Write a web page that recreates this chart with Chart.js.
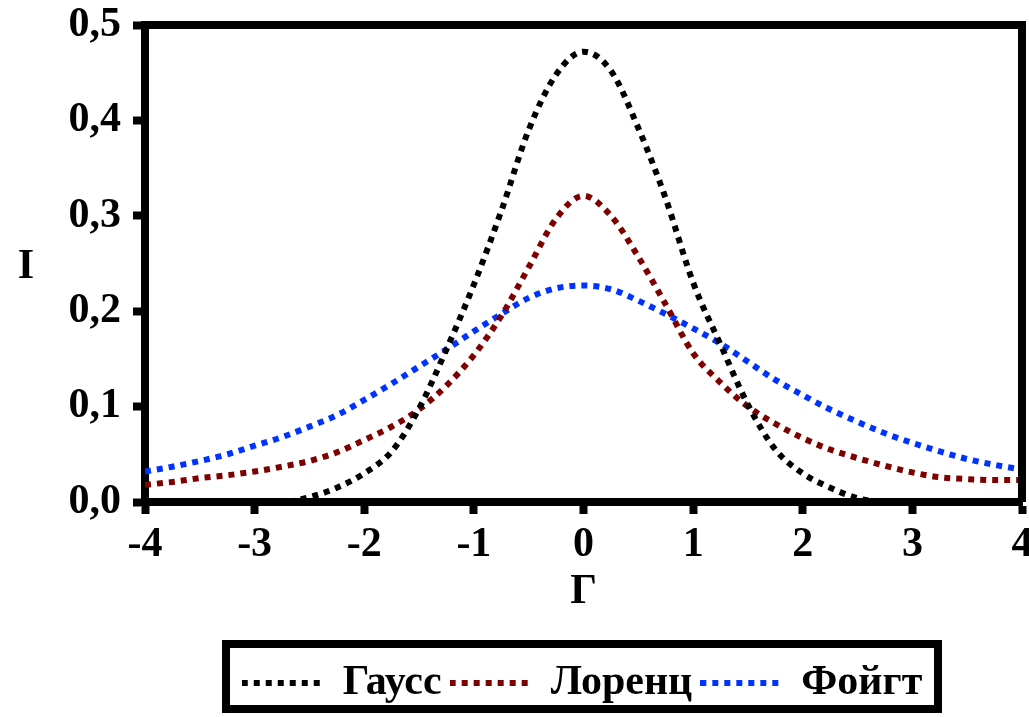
<!DOCTYPE html>
<html>
<head>
<meta charset="utf-8">
<script src="https://cdn.jsdelivr.net/npm/chart.js@4.4.1/dist/chart.umd.min.js"></script>
<style>
  html, body { margin: 0; padding: 0; background: #fff; }
  #wrap { width: 1029px; height: 717px; }
</style>
</head>
<body>
<div id="wrap"><canvas id="profileChart"></canvas></div>
<script>
// line profiles
const xValues = [-4, -3.75, -3.5, -3.25, -3, -2.75, -2.5, -2.25, -2, -1.75, -1.5, -1.25, -1, -0.75, -0.5, -0.25,
                 0, 0.25, 0.5, 0.75, 1, 1.25, 1.5, 1.75, 2, 2.25, 2.5, 2.75, 3, 3.25, 3.5, 3.75, 4];
const gaussValues = [0, 0, 0, 0, 0, 0, 0.005, 0.015, 0.03, 0.053, 0.098, 0.16, 0.228, 0.305, 0.39, 0.448,
                     0.472, 0.452, 0.392, 0.318, 0.23, 0.165, 0.102, 0.055, 0.03, 0.015, 0.004, 0, 0, 0, 0, 0, 0];
const lorentzValues = [0.018, 0.021, 0.025, 0.028, 0.032, 0.037, 0.043, 0.052, 0.065, 0.079, 0.097, 0.122, 0.154, 0.195, 0.246, 0.297,
                       0.321, 0.3, 0.257, 0.207, 0.156, 0.125, 0.1, 0.082, 0.067, 0.055, 0.046, 0.038, 0.031, 0.026, 0.024, 0.023, 0.023];
const voigtValues = [0.032, 0.037, 0.043, 0.05, 0.059, 0.068, 0.079, 0.091, 0.107, 0.124, 0.142, 0.16, 0.179, 0.197, 0.214, 0.224,
                     0.227, 0.223, 0.211, 0.197, 0.182, 0.166, 0.147, 0.128, 0.112, 0.097, 0.084, 0.072, 0.062, 0.053, 0.045, 0.039, 0.034];
const seriesNames = ['Гаусс', 'Лоренц', 'Фойгт'];
const seriesColors = ['#000000', '#7f0000', '#0033ff'];
const yTickLabels = ['0,0', '0,1', '0,2', '0,3', '0,4', '0,5'];

const serif = "'Liberation Serif', 'Times New Roman', serif";
const bigFont = { family: serif, size: 42, weight: 'bold' };
const sampleWidth = 80;

const toPoints = (vals) => xValues.map((x, i) => ({ x: x, y: vals[i] }));

const lineStyle = (color) => ({
    borderColor: color,
    backgroundColor: color,
    borderWidth: 6,
    borderDash: [6, 6],
    pointRadius: 0,
    fill: false,
    cubicInterpolationMode: 'monotone'
});

// dotted legend samples (point-style legend ignores the dash)
const makeSample = (color) => {
    const c = document.createElement('canvas');
    c.width = sampleWidth;
    c.height = 6;
    const g = c.getContext('2d');
    g.strokeStyle = color;
    g.lineWidth = 6;
    g.setLineDash([6, 6]);
    g.beginPath();
    g.moveTo(0, 3);
    g.lineTo(sampleWidth, 3);
    g.stroke();
    return c;
};
const samples = seriesColors.map(makeSample);

// unrotated "I" on the left + frame round the plot and the legend
const extras = {
    id: 'extras',
    afterLayout(chart) {
        chart.legend.left = 142;
    },
    afterDraw(chart) {
        const ctx = chart.ctx;
        const area = chart.chartArea;
        ctx.save();
        ctx.strokeStyle = '#000';
        ctx.lineWidth = 8;
        ctx.beginPath();
        ctx.moveTo(area.left - 4, area.top);
        ctx.lineTo(area.right, area.top);
        ctx.lineTo(area.right, area.bottom);
        ctx.stroke();

        ctx.strokeRect(226, 644, 712, 65);

        ctx.fillStyle = '#000';
        ctx.font = 'bold 42px ' + serif;
        ctx.textAlign = 'center';
        ctx.textBaseline = 'middle';
        ctx.fillText('I', 26, (area.top + area.bottom) / 2 + 4);
        ctx.restore();
    }
};

new Chart(document.getElementById('profileChart').getContext('2d'), {
    type: 'line',
    data: {
        datasets: [
            Object.assign({ label: seriesNames[0], data: toPoints(gaussValues) }, lineStyle(seriesColors[0])),
            Object.assign({ label: seriesNames[1], data: toPoints(lorentzValues) }, lineStyle(seriesColors[1])),
            Object.assign({ label: seriesNames[2], data: toPoints(voigtValues) }, lineStyle(seriesColors[2]))
        ]
    },
    options: {
        responsive: true,
        maintainAspectRatio: false,
        animation: false,
        layout: { padding: { top: 25, right: 7, bottom: 3, left: 0 } },
        plugins: {
            legend: {
                position: 'bottom',
                labels: {
                    usePointStyle: true,
                    pointStyleWidth: sampleWidth,
                    color: '#000',
                    font: bigFont,
                    padding: 8,
                    generateLabels(chart) {
                        const items = Chart.defaults.plugins.legend.labels.generateLabels(chart);
                        items.forEach((it, i) => { it.pointStyle = samples[i]; });
                        return items;
                    }
                }
            },
            tooltip: { enabled: false }
        },
        scales: {
            x: {
                type: 'linear',
                min: -4,
                max: 4,
                ticks: { stepSize: 1, color: '#000', font: bigFont, padding: 6, maxRotation: 0 },
                grid: { drawOnChartArea: false, tickLength: 12, tickWidth: 8, tickColor: '#000' },
                border: { width: 8, color: '#000' },
                title: { display: true, text: 'Г', color: '#000', font: bigFont, padding: { top: 0, bottom: 37 } },
                afterFit(scale) {
                    scale.height = 152;
                    scale.paddingLeft = 0;
                    scale.paddingRight = 0;
                }
            },
            y: {
                min: 0,
                max: 0.5,
                ticks: {
                    stepSize: 0.1,
                    color: '#000',
                    font: bigFont,
                    padding: 12,
                    callback: (v) => yTickLabels[Math.round(v * 10)]
                },
                grid: { drawOnChartArea: false, tickLength: 12, tickWidth: 8, tickColor: '#000' },
                border: { width: 8, color: '#000' },
                afterFit(scale) {
                    scale.width = 145;
                    scale.paddingTop = 0;
                    scale.paddingBottom = 0;
                }
            }
        }
    },
    plugins: [extras]
});
</script>
</body>
</html>
